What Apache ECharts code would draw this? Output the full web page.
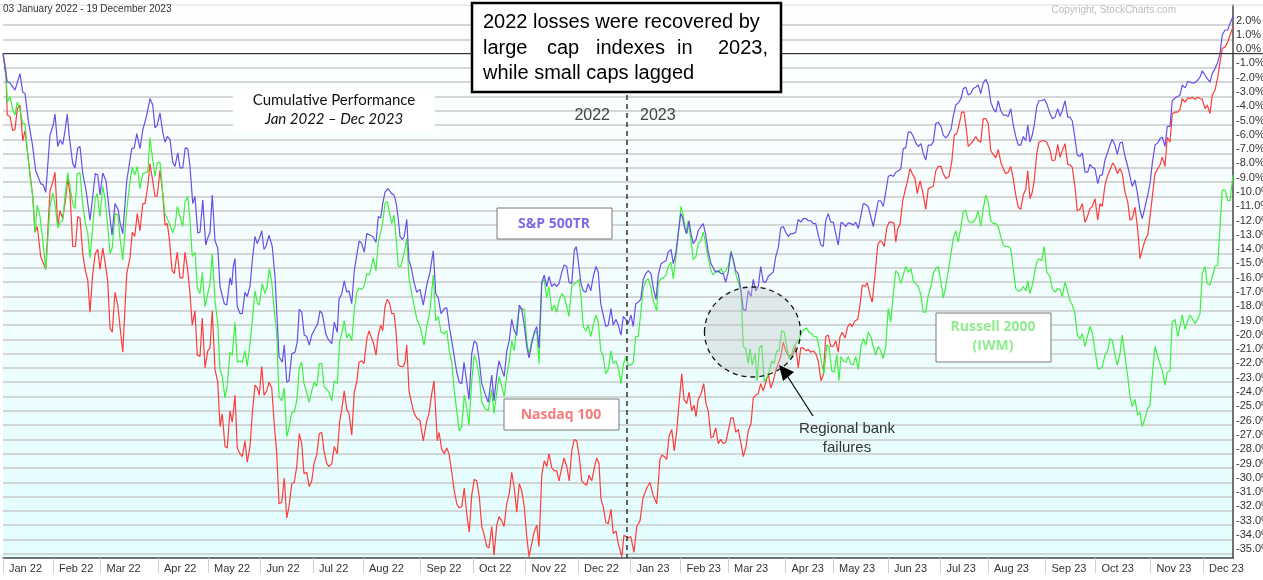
<!DOCTYPE html>
<html>
<head>
<meta charset="utf-8">
<title>Cumulative Performance Jan 2022 - Dec 2023</title>
<script src="https://cdn.jsdelivr.net/npm/echarts@6.0.0/dist/echarts.min.js"></script>
<style>
  html, body { margin: 0; padding: 0; background: #fff; }
  #chart { width: 1263px; height: 580px; }
</style>
</head>
<body>
<div id="chart"></div>
<script>
// month labels and trading days per month (03 Jan 2022 - 19 Dec 2023)
const monthLabels = ['Jan 22', 'Feb 22', 'Mar 22', 'Apr 22', 'May 22', 'Jun 22', 'Jul 22', 'Aug 22',
  'Sep 22', 'Oct 22', 'Nov 22', 'Dec 22', 'Jan 23', 'Feb 23', 'Mar 23', 'Apr 23', 'May 23', 'Jun 23',
  'Jul 23', 'Aug 23', 'Sep 23', 'Oct 23', 'Nov 23', 'Dec 23']
const tradingDays = [20, 19, 23, 20, 21, 21, 20, 23, 21, 21, 21, 21, 20, 19, 23, 19, 22, 21, 19, 23, 20, 22, 21, 13]
const yTicks = [2, 1, 0, -1, -2, -3, -4, -5, -6, -7, -8, -9, -10, -11, -12, -13, -14, -15, -16, -17, -18,
  -19, -20, -21, -22, -23, -24, -25, -26, -27, -28, -29, -30, -31, -32, -33, -34, -35]

// [trading day index, cumulative % change]
const spx = [[0,0],[1.7,-1.98],[2.8,-2.05],[4.8,-2.56],[6.8,-1.4],[7.9,-2.7],[8.8,-2.8],[10.1,-4.66],[11.7,-6.3],[13.1,-8.2],[13.7,-8.1],[15.1,-9.1],[16.1,-9.2],[17.1,-9.7],[18.8,-5.7],[20.1,-5.0],[20.8,-4.24],[21.9,-6.5],[22.8,-6.05],[23.9,-6.35],[24.8,-5.4],[25.7,-4.24],[26.5,-5.8],[27.9,-7.7],[28.8,-8.0],[29.9,-6.6],[30.8,-6.5],[31.9,-8.4],[33.2,-9.56],[34.8,-11.65],[35.9,-10.0],[36.9,-8.4],[37.9,-8.5],[38.8,-9.9],[39.9,-8.35],[41.2,-8.9],[42.5,-11.0],[43.6,-12.7],[44.8,-10.5],[46.1,-10.95],[46.8,-11.8],[47.9,-12.6],[49.5,-8.9],[51.5,-6.65],[52.5,-6.6],[53.5,-5.6],[54.8,-6.65],[55.9,-5.36],[57.5,-4.3],[58.8,-3.15],[59.9,-3.6],[60.8,-5.2],[61.7,-5.0],[62.8,-4.15],[63.9,-5.5],[64.8,-6.2],[65.7,-5.8],[66.8,-6.0],[67.9,-7.6],[68.8,-7.9],[69.9,-6.95],[70.8,-8.0],[71.9,-8.0],[72.9,-6.6],[73.9,-6.65],[74.8,-7.9],[75.9,-10.5],[76.8,-10.0],[77.9,-12.55],[78.8,-12.5],[79.9,-10.25],[81.1,-13.4],[81.9,-12.9],[82.8,-12.5],[83.7,-9.9],[84.8,-13.1],[85.9,-13.6],[86.8,-16.3],[87.5,-16.2],[88.5,-17.5],[89.5,-17.6],[90.8,-15.7],[91.5,-16.2],[92.1,-14.9],[92.8,-14.35],[93.7,-17.7],[94.8,-18.2],[95.7,-18.2],[96.8,-16.7],[97.7,-17.0],[98.8,-16.3],[99.7,-14.5],[100.8,-12.8],[101.7,-13.3],[102.5,-12.96],[103.5,-12.4],[104.4,-13.7],[105.2,-13.5],[106.4,-12.7],[107.7,-13.5],[108.8,-15.6],[110.4,-21.2],[111.7,-21.6],[112.5,-20.4],[113.5,-23.0],[114.4,-22.9],[115.5,-21.0],[116.8,-20.9],[117.7,-20.2],[118.5,-17.9],[119.5,-18.1],[120.5,-19.7],[121.5,-19.8],[122.5,-20.4],[123.5,-19.7],[124.8,-19.25],[125.9,-18.9],[126.8,-18.0],[127.7,-18.2],[129.1,-19.6],[130.1,-20.0],[131.5,-20.3],[132.5,-18.8],[133.7,-19.5],[134.4,-17.2],[135.5,-16.8],[136.5,-15.9],[137.5,-16.7],[138.4,-16.6],[139.5,-17.5],[140.5,-15.2],[141.5,-14.1],[142.5,-13.1],[143.5,-13.3],[144.5,-13.9],[145.5,-12.6],[146.8,-12.7],[147.9,-12.8],[149.2,-13.2],[150.1,-11.4],[151.1,-11.5],[151.9,-10.5],[152.8,-9.7],[153.9,-9.45],[154.5,-9.4],[155.5,-9.8],[156.4,-9.9],[157.2,-10.4],[158.1,-11.55],[158.8,-12.8],[159.7,-13.0],[160.5,-12.8],[161.5,-11.6],[162.4,-14.5],[163.2,-14.9],[164.4,-16.0],[165.5,-16.7],[166.8,-16.5],[168.1,-17.6],[169.5,-16.2],[170.8,-15.3],[172.1,-13.8],[173.1,-16.8],[174.1,-17.1],[175.2,-18.2],[176.5,-17.85],[177.5,-17.8],[178.5,-19.1],[179.5,-20.1],[180.5,-21.2],[181.5,-22.3],[182.5,-23.0],[183.5,-23.1],[184.4,-21.6],[185.5,-23.0],[186.4,-24.2],[187.5,-21.0],[188.5,-20.1],[189.5,-20.3],[190.5,-21.5],[191.5,-23.1],[192.8,-23.8],[194.1,-24.4],[195.5,-22.5],[196.4,-24.3],[197.5,-22.5],[198.4,-21.5],[199.5,-22.1],[200.5,-22.6],[201.5,-20.8],[202.5,-20.1],[203.5,-18.6],[204.5,-19.4],[205.5,-19.7],[206.5,-17.6],[207.5,-17.9],[208.5,-19.0],[209.5,-20.5],[210.4,-21.3],[211.5,-20.3],[212.5,-19.5],[213.5,-19.1],[214.4,-20.6],[215.5,-16.0],[216.5,-15.5],[217.5,-16.3],[218.4,-15.6],[219.5,-16.3],[220.5,-16.1],[221.5,-16.3],[222.4,-16.1],[223.5,-15.3],[224.5,-14.8],[225.5,-14.9],[226.4,-16.0],[227.5,-16.1],[228.5,-13.8],[229.3,-13.5],[230.1,-14.5],[231.2,-16.1],[232.1,-16.6],[233.1,-16.7],[234.1,-16.1],[235.1,-16.6],[236.1,-15.6],[237.2,-14.9],[238.1,-15.3],[239.1,-17.5],[240.1,-18.3],[241.1,-19.1],[242.1,-19.0],[243.2,-17.85],[244.1,-19.0],[245.2,-18.6],[246.1,-19.0],[247.2,-19.7],[248.1,-18.4],[249.1,-18.6],[250.1,-18.9],[251.2,-18.3],[252.1,-19.1],[253.1,-17.5],[254.1,-17.4],[255.1,-17.2],[256.1,-15.8],[257.1,-15.4],[258.1,-15.2],[259.2,-15.4],[260.1,-16.4],[261.2,-17.2],[262.1,-15.5],[263.2,-14.7],[264.1,-14.6],[265.2,-14.5],[266.1,-13.9],[267.2,-13.7],[268.1,-14.7],[269.1,-14.0],[270.1,-12.6],[271.1,-11.2],[271.7,-11.4],[272.5,-12.1],[273.5,-12.6],[274.4,-11.7],[275.2,-12.6],[276.1,-13.3],[277.2,-13.0],[278.1,-12.4],[279.2,-12.1],[280.1,-11.9],[281.1,-12.7],[282.1,-13.9],[283.2,-14.7],[284.1,-15.0],[285.1,-15.3],[286.1,-15.2],[287.2,-15.4],[288.1,-15.4],[289.1,-16.0],[290.1,-15.3],[291.2,-13.9],[292.1,-14.4],[293.1,-15.2],[294.1,-15.4],[295.2,-16.6],[296.1,-17.9],[297.1,-18.0],[298.1,-16.6],[299.2,-17.0],[300.1,-15.8],[301.1,-16.6],[302.1,-16.3],[303.1,-14.9],[304.1,-16.0],[305.1,-16.0],[306.1,-15.6],[307.2,-15.4],[308.1,-15.3],[309.1,-14.2],[310.1,-13.6],[311.1,-12.2],[312.1,-12.1],[313.1,-12.5],[314.1,-12.8],[315.1,-12.6],[316.1,-12.6],[317.1,-12.5],[318.1,-11.6],[319.1,-11.8],[320.1,-11.55],[321.2,-11.55],[322.1,-11.7],[323.1,-11.7],[324.1,-11.9],[325.1,-11.9],[326.1,-12.7],[327.2,-13.4],[328.1,-13.5],[329.1,-11.7],[330.1,-11.2],[331.1,-11.8],[332.1,-11.8],[333.1,-12.6],[334.1,-13.4],[335.2,-11.8],[336.1,-11.9],[337.1,-12.1],[338.1,-11.85],[339.1,-11.9],[340.1,-12.0],[341.1,-11.8],[342.1,-12.25],[343.2,-11.3],[344.1,-10.5],[345.1,-10.55],[346.1,-10.7],[347.1,-11.4],[348.1,-12.1],[349.1,-11.2],[350.1,-10.3],[351.1,-10.3],[352.1,-10.7],[353.1,-9.7],[354.1,-8.6],[355.1,-8.5],[356.1,-8.6],[357.1,-8.3],[358.1,-8.2],[359.1,-8.1],[360.1,-6.65],[361.1,-6.6],[362.1,-5.5],[363.2,-5.5],[364.1,-5.8],[365.1,-6.25],[366.1,-6.5],[367.2,-6.3],[368.1,-7.0],[369.1,-7.45],[370.1,-6.4],[371.2,-6.4],[372.1,-6.2],[373.1,-4.9],[374.1,-4.8],[375.2,-5.1],[376.1,-5.7],[377.1,-5.9],[378.1,-5.7],[379.2,-5.3],[380.1,-4.4],[381.1,-3.6],[382.1,-3.45],[383.2,-3.15],[384.1,-2.45],[385.1,-2.35],[386.1,-2.9],[387.1,-2.8],[388.1,-2.45],[389.1,-2.35],[390.1,-2.2],[391.1,-2.8],[392.1,-2.05],[393.1,-1.8],[394.1,-2.2],[395.1,-3.4],[396.1,-3.85],[397.1,-4.1],[398.1,-3.3],[399.1,-4.0],[400.1,-4.3],[401.1,-4.3],[402.1,-4.4],[403.1,-3.85],[404.1,-5.0],[405.1,-5.8],[406.1,-6.4],[407.1,-6.4],[408.1,-5.8],[409.1,-6.1],[409.9,-5.0],[410.8,-6.2],[411.7,-5.7],[412.5,-5.0],[413.5,-3.7],[414.4,-3.3],[415.5,-3.3],[416.5,-3.2],[417.5,-3.5],[418.8,-4.2],[419.7,-4.55],[420.8,-4.45],[421.9,-3.85],[422.8,-4.4],[423.7,-4.0],[424.8,-3.3],[425.9,-4.45],[426.8,-4.45],[427.7,-4.7],[428.8,-5.95],[429.7,-7.1],[430.8,-7.2],[431.7,-6.95],[432.8,-8.3],[433.9,-8.3],[434.8,-7.75],[435.7,-7.95],[436.8,-8.05],[437.9,-9.1],[438.8,-8.5],[439.7,-8.5],[440.8,-7.45],[441.9,-6.9],[442.8,-6.4],[443.7,-6.0],[444.8,-6.4],[445.7,-7.05],[446.8,-6.25],[447.7,-6.2],[448.8,-7.2],[449.9,-7.9],[450.8,-8.6],[451.7,-9.3],[452.8,-8.85],[453.9,-9.9],[454.8,-10.95],[455.7,-11.55],[456.8,-10.75],[457.9,-9.9],[458.8,-9.1],[459.7,-7.7],[460.8,-6.4],[461.9,-6.25],[462.8,-5.95],[463.7,-5.85],[464.8,-6.5],[465.7,-5.1],[466.8,-5.1],[467.7,-3.3],[468.8,-3.1],[469.9,-3.0],[470.8,-2.9],[471.7,-2.2],[472.8,-2.4],[473.9,-1.95],[474.8,-2.0],[475.7,-2.05],[476.8,-2.05],[477.9,-1.85],[478.8,-1.65],[479.7,-1.2],[480.8,-1.5],[481.7,-1.75],[482.8,-2.0],[483.7,-1.4],[484.8,-1.05],[485.9,-0.6],[486.8,0.0],[487.7,1.3],[488.8,1.65],[489.9,1.65],[490.8,2.1],[492,2.6]]

const ndx = [[0,0],[1.2,-1.6],[1.7,-4.3],[2.8,-4.4],[3.9,-5.4],[4.8,-5.3],[5.7,-3.85],[6.8,-3.6],[7.9,-6.1],[8.8,-5.4],[9.7,-6.75],[10.8,-8.4],[11.9,-10.0],[12.8,-12.5],[13.7,-12.1],[15.1,-14.2],[15.9,-14.1],[17.1,-15.1],[18.8,-9.6],[19.9,-9.0],[20.8,-8.3],[21.9,-12.1],[22.8,-11.0],[23.9,-11.55],[24.8,-10.5],[25.9,-8.75],[26.8,-9.8],[27.9,-13.5],[29.0,-13.5],[29.9,-11.4],[30.8,-11.5],[31.9,-14.0],[32.9,-15.15],[33.9,-15.85],[34.8,-18.1],[35.9,-15.4],[36.9,-14.0],[37.9,-13.7],[38.8,-15.1],[39.9,-13.6],[40.9,-14.7],[41.9,-15.95],[42.8,-19.2],[43.7,-19.5],[44.8,-16.7],[45.9,-17.6],[46.8,-19.1],[47.9,-20.9],[49.5,-15.4],[50.8,-14.3],[51.7,-12.5],[52.7,-12.8],[53.7,-11.2],[54.8,-12.4],[55.9,-10.5],[56.8,-10.5],[57.9,-9.3],[58.8,-7.7],[59.7,-8.7],[60.8,-10.0],[61.7,-9.95],[62.8,-8.15],[63.9,-9.8],[64.8,-12.0],[65.7,-11.9],[66.5,-12.9],[67.6,-15.15],[68.5,-15.4],[69.7,-13.9],[70.8,-15.7],[71.9,-15.7],[72.8,-13.9],[73.9,-15.15],[74.8,-16.8],[75.7,-19.0],[76.8,-18.0],[77.7,-21.1],[78.8,-21.2],[79.7,-18.5],[80.8,-22.0],[81.9,-20.8],[82.8,-20.6],[83.7,-18.0],[84.8,-22.1],[85.9,-23.0],[86.8,-26.1],[87.7,-25.2],[88.8,-27.5],[89.7,-27.6],[90.8,-25.0],[91.7,-25.8],[92.8,-23.9],[93.7,-27.6],[94.8,-28.0],[95.7,-28.2],[96.8,-27.1],[97.7,-28.6],[98.8,-27.5],[99.7,-25.2],[100.8,-23.2],[101.7,-23.4],[102.5,-23.9],[103.5,-21.9],[104.4,-23.9],[105.5,-23.6],[106.4,-23.0],[107.5,-23.4],[108.5,-25.9],[109.5,-28.0],[110.4,-31.5],[111.5,-31.4],[112.5,-29.7],[113.5,-32.5],[114.4,-31.7],[115.5,-30.1],[116.5,-30.0],[117.5,-28.9],[118.5,-26.6],[119.5,-27.3],[120.4,-29.4],[121.5,-29.3],[122.5,-30.3],[123.5,-29.9],[124.5,-28.6],[125.5,-28.1],[126.5,-26.6],[127.5,-26.5],[128.4,-27.8],[129.5,-28.7],[130.4,-28.9],[131.5,-28.7],[132.5,-27.5],[133.7,-28.0],[134.7,-25.7],[135.5,-24.9],[136.5,-23.6],[137.5,-24.9],[138.4,-25.2],[139.5,-26.7],[140.5,-23.7],[141.5,-23.0],[142.4,-21.6],[143.5,-21.5],[144.4,-21.7],[145.5,-20.0],[146.4,-19.4],[147.2,-19.8],[148.1,-20.2],[149.2,-21.1],[150.1,-19.7],[151.1,-19.0],[151.9,-19.4],[152.8,-17.7],[153.7,-17.2],[154.5,-17.4],[155.5,-18.2],[156.4,-18.2],[157.2,-19.4],[158.1,-21.8],[159.1,-21.9],[160.1,-21.9],[160.8,-21.6],[161.5,-20.4],[162.4,-23.6],[163.5,-24.5],[164.5,-25.2],[165.5,-25.5],[166.8,-25.7],[168.1,-27.1],[169.5,-25.7],[170.4,-25.2],[171.5,-23.8],[172.4,-22.9],[173.7,-27.1],[174.4,-26.5],[175.5,-27.7],[176.5,-28.0],[177.5,-27.6],[178.4,-28.0],[179.5,-29.3],[180.5,-30.6],[181.5,-31.5],[182.4,-31.8],[183.5,-31.7],[184.5,-30.4],[185.5,-32.2],[186.5,-33.5],[187.5,-30.9],[188.5,-29.8],[189.5,-29.9],[190.5,-31.0],[191.5,-33.1],[192.5,-33.7],[193.5,-34.5],[194.4,-34.6],[195.5,-33.1],[196.4,-35.1],[197.5,-33.0],[198.4,-32.4],[199.5,-32.7],[200.4,-33.1],[201.5,-31.5],[202.5,-30.8],[203.5,-29.3],[204.5,-30.4],[205.5,-32.1],[206.5,-30.1],[207.5,-30.6],[208.5,-31.7],[209.5,-33.8],[210.4,-35.2],[211.5,-34.3],[212.4,-33.5],[213.5,-33.0],[214.4,-34.5],[215.5,-29.5],[216.5,-28.5],[217.5,-28.9],[218.4,-28.0],[219.5,-29.0],[220.5,-29.2],[221.5,-29.2],[222.4,-29.9],[223.5,-29.0],[224.4,-28.3],[225.5,-28.9],[226.5,-29.9],[227.5,-27.8],[228.5,-27.0],[229.5,-27.1],[230.5,-28.2],[231.5,-29.9],[232.5,-30.1],[233.5,-30.2],[234.4,-29.5],[235.5,-29.9],[236.5,-29.0],[237.5,-28.3],[238.4,-28.7],[239.2,-31.2],[240.1,-31.7],[241.1,-32.8],[242.1,-32.9],[243.2,-31.9],[244.1,-33.6],[245.2,-33.4],[246.1,-34.3],[247.5,-35.2],[248.4,-33.7],[250.1,-33.9],[251.1,-33.8],[252.4,-34.9],[253.5,-33.1],[254.8,-32.7],[256.0,-31.1],[257.5,-30.4],[258.8,-30.0],[260.0,-30.9],[261.5,-31.5],[262.8,-28.4],[263.5,-28.1],[264.5,-28.2],[265.5,-28.4],[266.4,-26.8],[267.5,-26.3],[268.5,-27.8],[269.5,-26.4],[270.4,-24.5],[271.5,-22.4],[272.4,-24.2],[273.5,-24.5],[274.4,-23.7],[275.5,-25.0],[276.4,-24.6],[277.2,-25.4],[278.1,-24.2],[279.2,-23.8],[280.3,-23.1],[281.2,-24.5],[282.1,-25.0],[283.2,-26.9],[284.1,-26.8],[285.1,-26.2],[286.1,-27.3],[287.1,-27.0],[288.1,-27.3],[289.1,-27.2],[290.1,-26.4],[291.2,-25.5],[292.1,-25.5],[293.1,-26.5],[294.1,-26.3],[295.2,-27.3],[296.1,-28.2],[297.1,-27.6],[298.1,-26.4],[299.2,-25.9],[300.1,-24.1],[301.1,-23.9],[302.1,-23.8],[303.1,-23.1],[304.1,-23.6],[305.1,-23.0],[306.1,-22.4],[307.1,-23.4],[308.1,-22.9],[309.1,-22.2],[310.1,-21.7],[311.1,-21.2],[312.1,-20.2],[313.1,-20.8],[314.1,-21.1],[315.1,-21.2],[316.1,-21.0],[317.1,-20.5],[318.1,-22.0],[319.1,-20.6],[320.1,-20.6],[321.2,-20.8],[322.1,-20.7],[323.1,-20.9],[324.1,-20.8],[325.1,-21.0],[326.1,-21.5],[327.2,-22.9],[328.1,-22.5],[329.1,-19.8],[330.1,-19.7],[331.1,-20.5],[332.1,-20.5],[333.1,-20.1],[334.1,-20.9],[334.8,-19.8],[335.7,-19.5],[336.8,-19.9],[337.9,-19.1],[338.8,-18.9],[339.7,-19.1],[340.8,-18.7],[341.9,-18.6],[342.8,-17.6],[343.7,-16.2],[344.8,-16.3],[345.7,-16.05],[346.8,-16.9],[347.7,-17.4],[348.8,-15.5],[349.9,-13.4],[350.8,-13.1],[351.7,-13.2],[352.5,-13.5],[353.5,-12.2],[354.4,-11.8],[355.5,-11.8],[356.4,-11.85],[357.1,-13.2],[357.9,-12.25],[358.8,-11.95],[359.9,-10.3],[360.8,-9.6],[361.7,-9.0],[362.8,-8.05],[363.7,-8.4],[364.8,-8.75],[365.7,-9.8],[366.8,-8.9],[367.9,-9.7],[369.1,-10.9],[370.1,-9.45],[371.2,-9.35],[372.1,-9.3],[373.1,-8.2],[374.1,-7.9],[375.2,-7.9],[376.1,-8.4],[377.2,-8.75],[378.4,-8.6],[379.5,-7.6],[380.5,-5.7],[381.5,-5.6],[382.4,-5.0],[383.5,-4.1],[384.4,-4.1],[385.2,-5.1],[386.1,-6.5],[387.1,-6.3],[388.1,-6.1],[389.1,-5.8],[390.1,-6.1],[391.1,-6.2],[392.1,-4.55],[393.1,-4.55],[394.1,-4.9],[395.1,-6.8],[396.1,-7.05],[397.1,-7.3],[398.1,-6.7],[399.1,-7.6],[400.1,-8.05],[401.1,-8.4],[402.1,-8.3],[403.1,-7.9],[404.1,-8.75],[405.1,-9.9],[406.1,-10.75],[407.1,-10.9],[408.1,-9.9],[409.1,-9.5],[409.9,-8.2],[410.8,-10.15],[411.7,-9.7],[412.5,-8.9],[413.5,-7.0],[414.4,-6.2],[415.5,-6.1],[416.5,-6.1],[417.5,-6.2],[418.8,-6.75],[419.7,-7.5],[420.8,-7.45],[421.9,-6.35],[422.8,-7.25],[423.7,-6.8],[424.8,-6.3],[425.9,-7.75],[426.8,-7.8],[427.7,-7.95],[428.8,-9.35],[429.7,-11.0],[430.8,-10.9],[431.7,-10.5],[432.8,-11.8],[433.7,-11.45],[434.8,-10.85],[435.7,-10.7],[436.8,-10.15],[437.9,-11.65],[438.8,-10.5],[439.7,-10.7],[440.8,-9.2],[441.9,-8.5],[442.8,-8.15],[443.9,-7.65],[444.8,-7.9],[445.7,-8.4],[446.8,-8.05],[447.7,-8.4],[448.8,-9.7],[449.9,-10.4],[450.8,-11.65],[451.7,-11.55],[452.8,-10.75],[453.9,-12.35],[454.8,-14.35],[455.7,-13.75],[456.8,-13.05],[457.9,-12.7],[458.8,-11.45],[459.7,-10.05],[460.8,-8.4],[461.9,-8.05],[462.8,-7.8],[463.7,-7.25],[464.8,-7.9],[465.7,-5.85],[466.8,-6.2],[467.7,-4.2],[468.8,-4.1],[469.9,-4.1],[470.8,-3.9],[471.7,-3.15],[472.8,-3.4],[473.9,-3.1],[474.8,-3.15],[475.7,-3.05],[476.8,-3.2],[477.9,-3.05],[478.8,-3.15],[479.7,-3.2],[480.8,-3.85],[481.7,-3.6],[482.8,-4.2],[483.7,-2.9],[484.8,-2.55],[485.9,-1.65],[486.8,-0.6],[487.7,0.35],[488.8,0.45],[489.9,0.8],[490.8,1.3],[492,1.85]]

const iwm = [[0,0],[1.2,-1.15],[1.7,-3.4],[2.8,-3.0],[3.9,-3.95],[4.8,-4.3],[5.7,-3.4],[6.8,-3.95],[7.9,-4.9],[8.8,-4.9],[9.7,-6.75],[10.8,-8.6],[11.9,-10.0],[12.8,-12.5],[13.7,-10.6],[14.8,-11.4],[15.9,-13.05],[17.1,-15.1],[18.8,-10.7],[19.9,-9.75],[20.8,-10.5],[21.9,-12.2],[22.8,-11.8],[23.9,-11.65],[24.8,-10.0],[25.9,-8.35],[26.8,-9.3],[27.9,-10.5],[28.8,-10.85],[29.7,-8.4],[30.8,-8.35],[31.9,-10.6],[32.9,-11.8],[33.9,-12.6],[34.8,-14.3],[35.9,-12.1],[36.9,-10.1],[37.7,-9.8],[38.8,-11.4],[39.9,-9.3],[40.9,-10.25],[41.9,-12.1],[42.8,-14.0],[43.7,-13.6],[44.8,-11.2],[45.9,-11.3],[46.8,-12.9],[47.9,-14.45],[49.5,-10.95],[50.8,-8.95],[51.7,-7.95],[52.7,-8.5],[53.7,-7.9],[54.8,-9.45],[55.9,-8.4],[56.8,-8.35],[57.9,-8.25],[58.8,-5.9],[59.7,-7.2],[60.8,-8.6],[61.7,-7.65],[62.8,-7.6],[63.9,-9.8],[64.8,-11.2],[65.7,-11.55],[66.8,-12.0],[67.9,-12.55],[68.8,-12.1],[69.7,-10.7],[70.8,-11.4],[71.9,-12.1],[72.8,-10.4],[73.9,-10.0],[74.8,-11.65],[75.7,-14.2],[76.8,-13.9],[77.7,-16.4],[78.8,-16.8],[79.7,-15.3],[80.8,-17.7],[81.9,-16.8],[82.8,-16.1],[83.7,-14.0],[84.8,-17.3],[85.9,-18.9],[86.8,-22.1],[87.7,-22.6],[88.8,-24.1],[89.7,-23.2],[90.8,-20.9],[91.7,-21.1],[92.8,-18.8],[93.7,-21.6],[94.8,-21.5],[95.7,-21.6],[96.8,-20.8],[97.7,-21.9],[98.8,-20.3],[99.7,-18.7],[100.8,-16.6],[101.7,-17.4],[102.5,-17.6],[103.7,-16.1],[104.8,-16.8],[105.7,-16.3],[106.5,-15.05],[107.5,-16.0],[108.5,-18.0],[109.5,-19.6],[110.4,-24.0],[111.5,-24.3],[112.5,-23.4],[113.5,-26.8],[114.5,-26.1],[115.5,-25.1],[116.5,-25.1],[117.5,-24.3],[118.5,-22.0],[119.5,-21.6],[120.4,-23.1],[121.5,-23.75],[122.5,-24.4],[123.5,-23.6],[124.5,-23.0],[125.5,-23.3],[126.5,-21.7],[127.5,-21.7],[128.4,-23.3],[129.5,-23.5],[130.4,-23.7],[131.5,-24.3],[132.5,-22.9],[133.7,-23.1],[134.7,-20.1],[135.5,-19.6],[136.5,-18.7],[137.5,-19.9],[138.4,-19.6],[139.5,-20.1],[140.5,-18.0],[141.5,-16.7],[142.4,-16.4],[143.5,-16.5],[144.4,-16.3],[145.5,-15.4],[146.4,-15.5],[147.2,-15.05],[148.1,-14.3],[149.2,-15.2],[150.1,-13.2],[151.1,-12.5],[151.9,-11.8],[152.8,-10.5],[153.7,-10.35],[154.5,-10.35],[155.5,-11.9],[156.4,-11.3],[157.2,-12.8],[158.1,-14.9],[159.1,-14.9],[160.1,-14.2],[160.8,-13.65],[161.5,-12.95],[162.4,-15.75],[163.5,-16.8],[164.5,-17.7],[165.7,-18.7],[166.8,-19.1],[167.2,-19.4],[168.4,-20.4],[169.5,-19.1],[170.8,-18.0],[172.1,-15.5],[173.1,-18.7],[174.1,-18.4],[175.2,-19.5],[176.5,-19.6],[177.5,-19.4],[178.5,-20.8],[179.5,-21.6],[180.5,-23.6],[181.5,-25.0],[182.5,-26.4],[183.5,-26.1],[184.5,-23.9],[185.5,-24.8],[186.4,-26.0],[187.5,-22.9],[188.5,-21.1],[189.5,-21.6],[190.5,-22.6],[191.5,-24.4],[192.8,-24.85],[194.1,-25.0],[195.5,-23.5],[196.4,-25.2],[197.5,-23.7],[198.4,-22.6],[199.5,-23.3],[200.5,-24.0],[201.5,-22.5],[202.5,-21.5],[203.5,-20.1],[204.5,-20.8],[205.5,-19.0],[206.5,-17.9],[207.5,-17.85],[208.5,-17.9],[209.5,-20.1],[210.4,-21.1],[211.5,-20.1],[212.5,-19.6],[213.5,-19.4],[214.4,-21.7],[215.5,-16.1],[216.5,-15.8],[217.5,-17.1],[218.4,-16.3],[219.5,-18.0],[220.5,-17.6],[221.5,-18.1],[222.4,-17.3],[223.5,-16.8],[224.5,-17.0],[225.5,-17.7],[226.4,-18.4],[227.5,-16.3],[228.5,-16.1],[229.5,-16.0],[230.4,-15.8],[231.2,-17.0],[232.1,-19.1],[233.1,-19.4],[234.1,-19.0],[235.1,-19.8],[236.1,-19.0],[237.2,-18.3],[238.1,-18.8],[239.1,-20.8],[240.1,-21.2],[241.1,-22.4],[242.1,-22.1],[243.2,-20.8],[244.1,-21.7],[245.2,-21.5],[246.1,-22.0],[247.2,-23.1],[248.1,-21.8],[249.1,-21.2],[250.1,-21.8],[251.2,-21.8],[252.1,-21.6],[253.1,-19.8],[254.1,-19.8],[255.1,-18.2],[256.1,-16.45],[257.1,-15.9],[258.1,-15.75],[259.2,-16.4],[260.1,-17.3],[261.5,-18.0],[262.1,-16.1],[263.2,-15.75],[264.1,-15.7],[265.2,-15.5],[266.1,-14.9],[267.2,-14.6],[268.1,-15.75],[269.1,-14.35],[270.1,-12.6],[271.2,-10.7],[272.1,-11.3],[273.1,-12.6],[274.1,-11.7],[275.2,-13.1],[276.1,-14.4],[277.2,-14.2],[278.1,-13.3],[279.2,-13.1],[280.1,-12.5],[281.1,-13.3],[282.1,-14.35],[283.2,-15.2],[284.1,-15.5],[285.1,-15.2],[286.1,-15.3],[287.2,-15.05],[288.1,-15.35],[289.1,-15.2],[290.1,-14.9],[291.2,-13.8],[292.1,-14.5],[293.1,-15.4],[294.1,-16.0],[295.2,-16.6],[296.1,-20.5],[297.1,-20.65],[298.1,-21.7],[298.8,-20.65],[299.7,-21.8],[300.8,-21.0],[301.7,-22.9],[302.5,-20.65],[303.5,-20.4],[304.5,-22.95],[305.5,-22.7],[306.4,-22.3],[307.5,-21.5],[308.4,-21.7],[309.5,-20.8],[310.4,-20.8],[311.5,-19.4],[312.5,-19.5],[313.5,-20.5],[314.4,-21.35],[315.5,-21.0],[316.4,-20.5],[317.5,-20.2],[318.4,-20.0],[319.5,-19.5],[320.4,-19.3],[321.5,-19.2],[322.4,-19.5],[323.5,-19.6],[324.4,-19.8],[325.5,-19.8],[326.4,-20.5],[327.5,-21.7],[328.4,-22.4],[329.5,-20.4],[330.4,-20.5],[331.5,-22.2],[332.4,-22.3],[333.5,-21.1],[334.4,-22.9],[335.2,-21.2],[336.1,-21.5],[337.1,-21.6],[338.1,-21.2],[339.1,-21.7],[340.1,-21.8],[341.1,-21.2],[342.1,-22.1],[343.2,-20.5],[344.1,-19.95],[345.1,-20.4],[346.1,-19.5],[347.1,-19.8],[348.1,-20.5],[349.1,-21.1],[350.1,-20.5],[351.1,-20.8],[352.1,-21.35],[353.1,-20.5],[354.1,-17.85],[355.1,-18.8],[356.1,-16.8],[357.1,-15.2],[358.1,-15.4],[359.1,-16.1],[360.1,-15.5],[361.1,-14.9],[362.1,-15.3],[363.2,-15.05],[364.1,-15.9],[365.1,-16.1],[366.1,-16.3],[367.2,-16.9],[368.1,-18.1],[369.1,-18.1],[370.1,-16.9],[371.2,-16.3],[372.1,-15.4],[373.1,-15.05],[374.1,-14.9],[375.2,-16.0],[376.1,-17.1],[377.1,-16.3],[378.1,-15.2],[379.2,-14.0],[380.1,-12.95],[381.1,-12.4],[382.1,-13.2],[383.2,-12.1],[384.1,-11.1],[385.1,-10.95],[386.1,-11.7],[387.1,-11.85],[388.1,-11.8],[389.1,-11.55],[390.1,-11.0],[391.1,-12.1],[392.1,-10.85],[393.1,-9.9],[394.1,-10.4],[395.1,-11.7],[396.1,-11.9],[397.1,-11.9],[398.1,-12.1],[399.1,-12.8],[400.1,-13.4],[401.1,-13.5],[402.1,-13.5],[403.1,-13.65],[404.1,-15.05],[405.1,-16.45],[406.1,-16.6],[407.1,-16.6],[408.1,-16.3],[409.1,-16.6],[409.9,-15.9],[410.8,-16.8],[411.7,-16.2],[412.5,-15.5],[413.5,-14.6],[414.4,-14.35],[415.5,-14.5],[416.5,-13.5],[417.5,-15.3],[418.8,-15.6],[419.7,-16.45],[420.8,-16.7],[421.9,-16.45],[422.8,-16.5],[423.7,-17.0],[424.8,-16.0],[425.9,-16.7],[426.8,-17.3],[427.7,-17.6],[428.8,-18.2],[429.7,-19.7],[430.8,-19.95],[431.7,-19.6],[432.8,-20.5],[433.9,-19.7],[434.8,-19.1],[435.7,-19.5],[436.8,-20.8],[437.9,-22.05],[438.8,-22.05],[439.7,-21.9],[440.8,-21.1],[441.9,-20.8],[442.8,-19.95],[443.7,-20.05],[444.8,-21.1],[445.7,-21.8],[446.8,-21.0],[447.7,-19.7],[448.8,-21.2],[449.9,-22.6],[450.8,-24.0],[451.7,-24.7],[452.8,-24.2],[453.9,-25.3],[454.8,-25.1],[455.7,-26.1],[456.8,-25.5],[457.9,-24.85],[458.8,-24.6],[459.7,-22.6],[460.8,-20.5],[461.9,-21.2],[462.8,-21.7],[463.7,-22.2],[464.8,-23.2],[465.7,-22.3],[466.8,-22.2],[467.7,-18.8],[468.8,-18.6],[469.9,-19.8],[470.8,-19.1],[471.7,-18.3],[472.8,-19.3],[473.9,-18.7],[474.8,-18.3],[475.7,-18.55],[476.8,-18.9],[477.9,-18.55],[478.8,-18.2],[479.7,-15.4],[480.8,-14.9],[481.7,-16.1],[482.8,-16.2],[483.7,-15.6],[484.8,-14.9],[485.9,-14.8],[486.8,-12.1],[487.7,-9.55],[488.8,-9.55],[489.9,-10.3],[490.8,-10.3],[492,-8.5]]

// month start positions on the trading-day scale
const monthStarts = []
tradingDays.reduce((acc, n) => { monthStarts.push(acc); return acc + n }, 0)
const lastDay = tradingDays.reduce((a, b) => a + b, 0) - 1

const hand = 'Liberation Sans'
const chart = echarts.init(document.getElementById('chart'))

const option = {
  animation: false,
  backgroundColor: '#ffffff',
  grid: {
    left: 3, right: 30, top: 5, bottom: 22,
    containLabel: false,
    outerBoundsMode: 'none',
    show: true,
    borderWidth: 0,
    backgroundColor: {
      type: 'linear', x: 0, y: 0, x2: 0, y2: 1,
      colorStops: [{ offset: 0, color: '#ffffff' }, { offset: 0.45, color: '#f3fdfe' }, { offset: 1, color: '#e2fdfe' }]
    }
  },
  xAxis: {
    type: 'value',
    min: 0,
    max: lastDay,
    axisLine: { onZero: false, lineStyle: { color: '#444', width: 1.5 } },
    axisTick: { customValues: monthStarts, length: 15, lineStyle: { color: '#cfcfcf' } },
    axisLabel: {
      customValues: monthStarts,
      formatter: v => monthLabels[monthStarts.indexOf(v)],
      align: 'left',
      padding: [0, 0, 0, 6],
      margin: 5,
      fontSize: 11,
      fontFamily: 'Liberation Sans',
      color: '#333'
    },
    splitLine: { show: false }
  },
  yAxis: {
    type: 'value',
    position: 'right',
    min: -35.3,
    max: 3.4,
    axisLine: { show: true, onZero: false, lineStyle: { color: '#444', width: 1.5 } },
    axisTick: { show: false, customValues: yTicks },
    axisLabel: {
      customValues: yTicks,
      formatter: v => v.toFixed(1) + '%',
      margin: 3,
      verticalAlign: 'bottom',
      lineHeight: 9,
      fontSize: 11,
      fontFamily: 'Liberation Sans',
      color: '#333'
    },
    splitLine: { show: true, lineStyle: { color: '#c9c9c9', width: 1.5 } }
  },
  series: [
    {
      name: 'Nasdaq 100',
      type: 'line',
      data: ndx,
      showSymbol: false,
      lineStyle: { color: '#ff3b3b', width: 1.2 },
      markLine: {
        silent: true,
        symbol: 'none',
        label: { show: false },
        lineStyle: { color: '#333', width: 1.2, type: 'solid' },
        data: [{ yAxis: 0 }]
      }
    },
    {
      name: 'Russell 2000 (IWM)',
      type: 'line',
      data: iwm,
      showSymbol: false,
      lineStyle: { color: '#3ff03f', width: 1.2 },
      markLine: {
        silent: true,
        symbol: 'none',
        label: { show: false },
        lineStyle: { color: '#333', width: 1.5, type: [5, 4] },
        data: [[{ coord: [249.6, -2.9] }, { coord: [249.6, -35.3] }]]
      }
    },
    {
      name: 'S&P 500TR',
      type: 'line',
      data: spx,
      showSymbol: false,
      lineStyle: { color: '#6a4fe6', width: 1.2 }
    }
  ],
  graphic: [
    { type: 'line', z: 5, shape: { x1: 0, y1: 5, x2: 1263, y2: 5 }, style: { stroke: '#dcdcdc', lineWidth: 1 } },
    { type: 'text', z: 20, left: 3, top: 4, style: { text: '03 January 2022 - 19 December 2023', font: '10px Liberation Sans', fill: '#333' } },
    { type: 'text', z: 20, x: 1176, y: 10, style: { text: 'Copyright, StockCharts.com', font: '10px Liberation Sans', fill: '#bbb', align: 'right', verticalAlign: 'middle' } },

    // title block on white
    { type: 'rect', z: 4, shape: { x: 233, y: 89, width: 202, height: 43 }, style: { fill: '#ffffff' } },
    { type: 'text', z: 20, x: 334, y: 100, style: { text: 'Cumulative Performance', font: '15px Lato', fill: '#111', align: 'center', verticalAlign: 'middle' } },
    { type: 'text', z: 20, x: 334, y: 119, style: { text: 'Jan 2022 \u2013 Dec 2023', font: 'italic 15px Lato', fill: '#111', align: 'center', verticalAlign: 'middle' } },

    // callout
    { type: 'rect', z: 20, shape: { x: 472, y: 3, width: 309, height: 89 }, style: { fill: '#fff', stroke: '#000', lineWidth: 2.5 } },
    { type: 'text', z: 21, x: 483, y: 22, style: { text: '2022 losses were recovered by', font: '20px ' + hand, fill: '#000', verticalAlign: 'middle' } },
    { type: 'text', z: 21, x: 483, y: 48, style: { text: 'large', font: '20px ' + hand, fill: '#000', verticalAlign: 'middle' } },
    { type: 'text', z: 21, x: 547, y: 48, style: { text: 'cap', font: '20px ' + hand, fill: '#000', verticalAlign: 'middle' } },
    { type: 'text', z: 21, x: 596, y: 48, style: { text: 'indexes', font: '20px ' + hand, fill: '#000', verticalAlign: 'middle' } },
    { type: 'text', z: 21, x: 677, y: 48, style: { text: 'in', font: '20px ' + hand, fill: '#000', verticalAlign: 'middle' } },
    { type: 'text', z: 21, x: 768, y: 48, style: { text: '2023,', font: '20px ' + hand, fill: '#000', align: 'right', verticalAlign: 'middle' } },
    { type: 'text', z: 21, x: 483, y: 73, style: { text: 'while small caps lagged', font: '20px ' + hand, fill: '#000', verticalAlign: 'middle' } },

    // year labels
    { type: 'text', z: 20, x: 610, y: 116, style: { text: '2022', font: '16px ' + hand, fill: '#444', align: 'right', verticalAlign: 'middle' } },
    { type: 'text', z: 20, x: 640, y: 116, style: { text: '2023', font: '16px ' + hand, fill: '#444', verticalAlign: 'middle' } },

    // series labels
    { type: 'rect', z: 20, shape: { x: 497, y: 208, width: 115, height: 31 }, style: { fill: '#fff', stroke: '#7a7a7a', lineWidth: 1 } },
    { type: 'text', z: 21, x: 554, y: 224, style: { text: 'S&P 500TR', font: 'bold 14px Open Sans', fill: '#7d6be6', align: 'center', verticalAlign: 'middle' } },
    { type: 'rect', z: 20, shape: { x: 504, y: 399, width: 115, height: 31 }, style: { fill: '#fff', stroke: '#7a7a7a', lineWidth: 1 } },
    { type: 'text', z: 21, x: 561, y: 415, style: { text: 'Nasdaq 100', font: 'bold 14px Open Sans', fill: '#f77b7b', align: 'center', verticalAlign: 'middle' } },
    { type: 'rect', z: 20, shape: { x: 936, y: 313, width: 115, height: 49 }, style: { fill: '#fff', stroke: '#7a7a7a', lineWidth: 1 } },
    { type: 'text', z: 21, x: 993, y: 337, style: { text: 'Russell 2000\n(IWM)', font: 'bold 14px Open Sans', lineHeight: 19, fill: '#8fec8f', align: 'center', verticalAlign: 'middle' } },

    // regional bank failures marker
    { type: 'ellipse', z: 15, shape: { cx: 752.5, cy: 332, rx: 48, ry: 45 }, style: { fill: 'rgba(190,195,195,0.35)', stroke: '#111', lineWidth: 1.3, lineDash: [5, 4] } },
    { type: 'line', z: 16, shape: { x1: 813, y1: 416, x2: 786, y2: 374 }, style: { stroke: '#111', lineWidth: 1.3 } },
    { type: 'polygon', z: 16, shape: { points: [[779, 365], [794, 372], [783, 381]] }, style: { fill: '#000' } },
    { type: 'text', z: 20, x: 847, y: 429, style: { text: 'Regional bank', font: '15px ' + hand, fill: '#333', align: 'center', verticalAlign: 'middle' } },
    { type: 'text', z: 20, x: 847, y: 448, style: { text: 'failures', font: '15px ' + hand, fill: '#333', align: 'center', verticalAlign: 'middle' } }
  ]
}

chart.setOption(option)

// the zero line runs on under the percent labels to the page edge
const zeroY = chart.convertToPixel({ yAxisIndex: 0 }, 0)
chart.setOption({
  graphic: option.graphic.concat([
    { type: 'line', z: 5, shape: { x1: 1233, y1: zeroY, x2: 1263, y2: zeroY }, style: { stroke: '#333', lineWidth: 1.2 } }
  ])
})
</script>
</body>
</html>
